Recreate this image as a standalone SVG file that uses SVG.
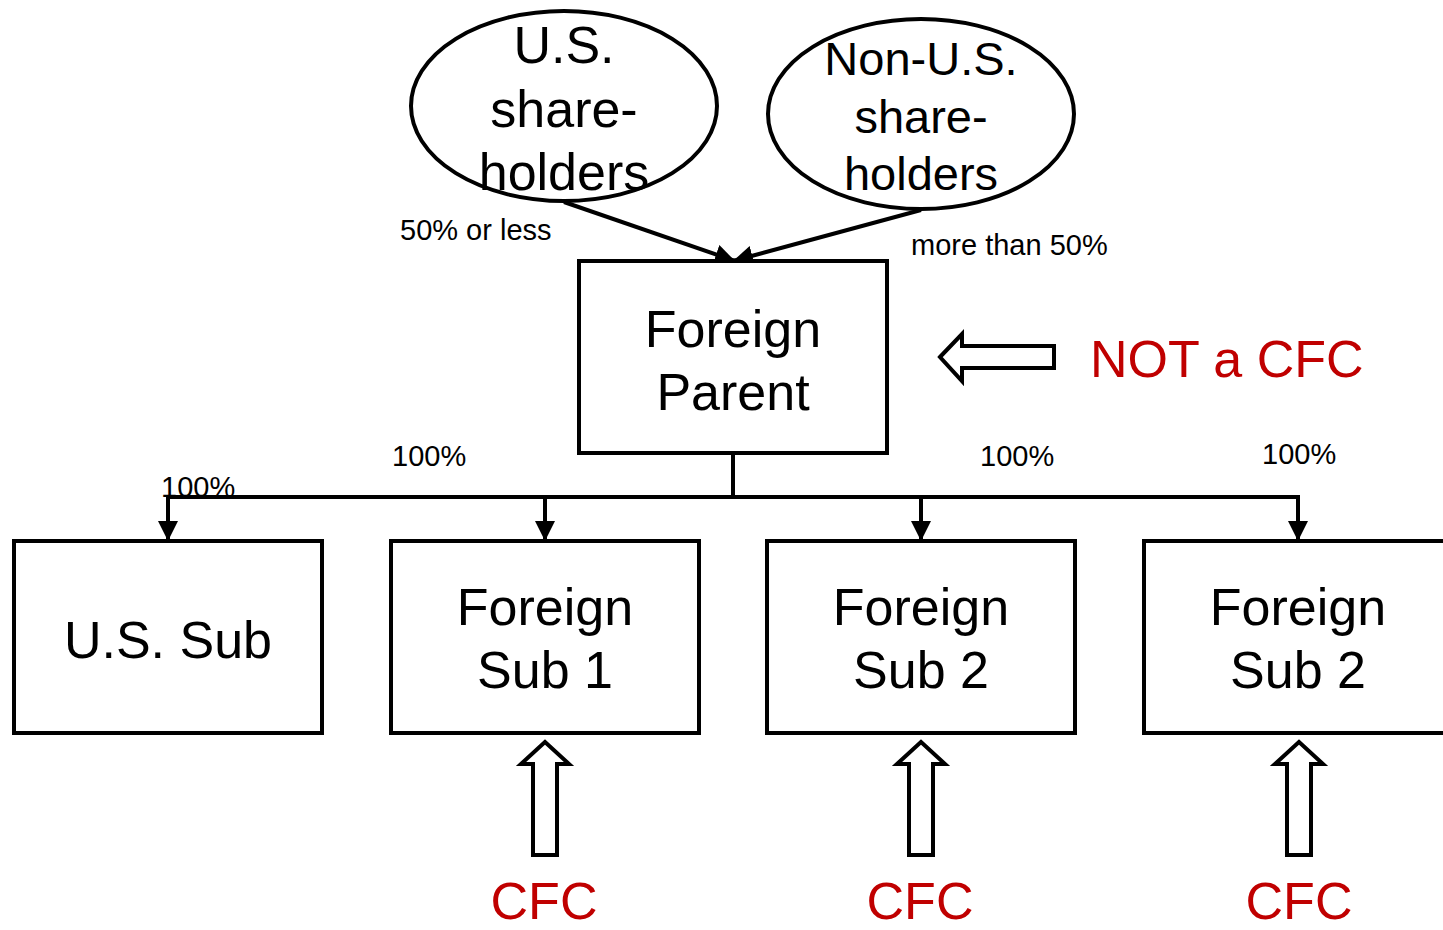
<svg xmlns="http://www.w3.org/2000/svg" width="1443" height="930" viewBox="0 0 1443 930">
<style>
.shape{fill:#fff;stroke:#000;stroke-width:4}
.t{font-family:"Liberation Sans",Arial,sans-serif;fill:#000;text-anchor:middle}
.big{font-size:52px}
.lbl{font-size:29px;font-family:"Liberation Sans",Arial,sans-serif;fill:#000}
.red{font-family:"Liberation Sans",Arial,sans-serif;fill:#C00000;font-size:52px}
.ln{fill:none;stroke:#000;stroke-width:4}
</style>
<defs>
<marker id="ah2" viewBox="0 0 20 20" refX="20" refY="10" markerWidth="20" markerHeight="20" orient="auto" markerUnits="userSpaceOnUse">
<path d="M0,0 L20,10 L0,20 Z" fill="#000"/>
</marker>
</defs>
<rect width="1443" height="930" fill="#fff"/>
<g id="connectors">
<line class="ln" x1="564" y1="202" x2="735" y2="261" marker-end="url(#ah2)"/>
<line class="ln" x1="921" y1="210" x2="733" y2="261" marker-end="url(#ah2)"/>
<polyline class="ln" points="733,453 733,497"/>
<polyline class="ln" points="168,497 1298,497"/>
<line class="ln" x1="168" y1="495" x2="168" y2="541" marker-end="url(#ah2)"/>
<line class="ln" x1="545" y1="495" x2="545" y2="541" marker-end="url(#ah2)"/>
<line class="ln" x1="921" y1="495" x2="921" y2="541" marker-end="url(#ah2)"/>
<line class="ln" x1="1298" y1="495" x2="1298" y2="541" marker-end="url(#ah2)"/>
</g>
<g id="us-shareholders">
<ellipse class="shape" cx="564" cy="106" rx="153" ry="95"/>
<text class="t big" x="564" y="63">U.S.</text>
<text class="t big" x="564" y="127">share-</text>
<text class="t big" x="564" y="190">holders</text>
</g>
<g id="non-us-shareholders">
<ellipse class="shape" cx="921" cy="114" rx="153" ry="95"/>
<text class="t" style="font-size:47px" x="921" y="75">Non-U.S.</text>
<text class="t" style="font-size:47px" x="921" y="133">share-</text>
<text class="t" style="font-size:47px" x="921" y="190">holders</text>
</g>
<g id="foreign-parent">
<rect class="shape" x="579" y="261" width="308" height="192"/>
<text class="t big" x="733" y="347">Foreign</text>
<text class="t big" x="733" y="410">Parent</text>
</g>
<g id="us-sub">
<rect class="shape" x="14" y="541" width="308" height="192"/>
<text class="t big" x="168" y="658">U.S. Sub</text>
</g>
<g id="foreign-sub-1">
<rect class="shape" x="391" y="541" width="308" height="192"/>
<text class="t big" x="545" y="625">Foreign</text>
<text class="t big" x="545" y="688">Sub 1</text>
</g>
<g id="foreign-sub-2a">
<rect class="shape" x="767" y="541" width="308" height="192"/>
<text class="t big" x="921" y="625">Foreign</text>
<text class="t big" x="921" y="688">Sub 2</text>
</g>
<g id="foreign-sub-2b">
<rect class="shape" x="1144" y="541" width="308" height="192"/>
<text class="t big" x="1298" y="625">Foreign</text>
<text class="t big" x="1298" y="688">Sub 2</text>
</g>
<g id="labels">
<text class="lbl" x="400" y="240">50% or less</text>
<text class="lbl" x="911" y="255">more than 50%</text>
<text class="lbl" x="392" y="466">100%</text>
<text class="lbl" x="161" y="497">100%</text>
<text class="lbl" x="980" y="466">100%</text>
<text class="lbl" x="1262" y="464">100%</text>
</g>
<g id="not-cfc">
<path class="shape" d="M940,357 L962,334 L962,346 L1054,346 L1054,368 L962,368 L962,381 Z"/>
<text class="red" x="1090" y="377">NOT a CFC</text>
</g>
<g id="cfc-1">
<path class="shape" d="M545,742 L569,764 L557,764 L557,855 L533,855 L533,764 L521,764 Z"/>
<text class="red" x="544" y="919" text-anchor="middle">CFC</text>
</g>
<g id="cfc-2">
<path class="shape" d="M921,742 L945,764 L933,764 L933,855 L909,855 L909,764 L897,764 Z"/>
<text class="red" x="920" y="919" text-anchor="middle">CFC</text>
</g>
<g id="cfc-3">
<path class="shape" d="M1299,742 L1323,764 L1311,764 L1311,855 L1287,855 L1287,764 L1275,764 Z"/>
<text class="red" x="1299" y="919" text-anchor="middle">CFC</text>
</g>
</svg>
